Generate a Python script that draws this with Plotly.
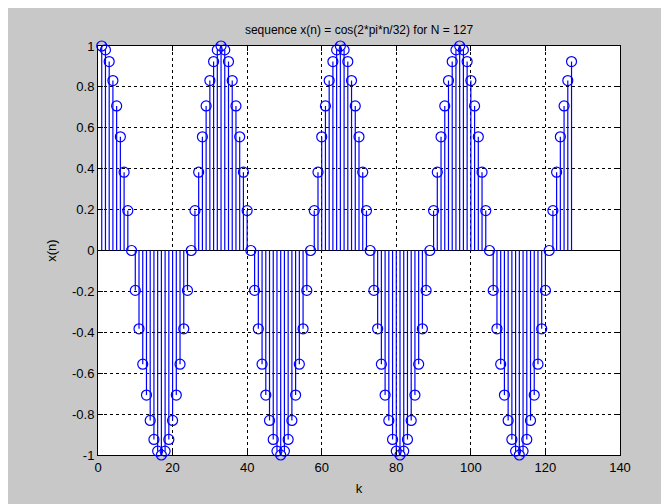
import plotly.graph_objects as go

k_values = list(range(1, 128))
x_values = [
    1.000, 0.981, 0.924, 0.831, 0.707, 0.556, 0.383, 0.195, 0.000, -0.195, -0.383, -0.556, -0.707, -0.831, -0.924, -0.981,
    -1.000, -0.981, -0.924, -0.831, -0.707, -0.556, -0.383, -0.195, 0.000, 0.195, 0.383, 0.556, 0.707, 0.831, 0.924, 0.981,
    1.000, 0.981, 0.924, 0.831, 0.707, 0.556, 0.383, 0.195, 0.000, -0.195, -0.383, -0.556, -0.707, -0.831, -0.924, -0.981,
    -1.000, -0.981, -0.924, -0.831, -0.707, -0.556, -0.383, -0.195, 0.000, 0.195, 0.383, 0.556, 0.707, 0.831, 0.924, 0.981,
    1.000, 0.981, 0.924, 0.831, 0.707, 0.556, 0.383, 0.195, 0.000, -0.195, -0.383, -0.556, -0.707, -0.831, -0.924, -0.981,
    -1.000, -0.981, -0.924, -0.831, -0.707, -0.556, -0.383, -0.195, 0.000, 0.195, 0.383, 0.556, 0.707, 0.831, 0.924, 0.981,
    1.000, 0.981, 0.924, 0.831, 0.707, 0.556, 0.383, 0.195, 0.000, -0.195, -0.383, -0.556, -0.707, -0.831, -0.924, -0.981,
    -1.000, -0.981, -0.924, -0.831, -0.707, -0.556, -0.383, -0.195, 0.000, 0.195, 0.383, 0.556, 0.707, 0.831, 0.924,
]
x_ticks = [0, 20, 40, 60, 80, 100, 120, 140]
y_ticks = [-1, -0.8, -0.6, -0.4, -0.2, 0, 0.2, 0.4, 0.6, 0.8, 1]
y_tick_labels = ["-1", "-0.8", "-0.6", "-0.4", "-0.2", "0", "0.2", "0.4", "0.6", "0.8", "1"]
title_text = "sequence x(n) = cos(2*pi*n/32) for N = 127"

BLUE = "#0000ff"
GRAY = "#c8c8c8"

stem_x, stem_y = [], []
for k, v in zip(k_values, x_values):
    stem_x += [k, k, None]
    stem_y += [0, v, None]

fig = go.Figure()
# baseline
fig.add_trace(go.Scatter(x=[x_ticks[0], x_ticks[-1]], y=[0, 0], mode="lines",
                         line=dict(color="black", width=1), hoverinfo="skip", showlegend=False))
fig.add_trace(go.Scatter(x=stem_x, y=stem_y, mode="lines",
                         line=dict(color=BLUE, width=1.2), hoverinfo="skip", showlegend=False))
fig.add_trace(go.Scatter(x=k_values, y=x_values, mode="markers", cliponaxis=False,
                         marker=dict(symbol="circle-open", size=10, color=BLUE, line=dict(width=1.2, color=BLUE)),
                         showlegend=False))

# figure is placed by the page with a small offset; compensate
OX, OY = 9, 6
W, H = 669 - OX, 504 - OY
L, T = 99 - OX, 44 - OY
R = 669 - 621
B = 504 - 453
pw, ph = W - L - R, H - T - B

def px_x(p):
    return (p - OX - L) / pw

fig.update_layout(
    width=W, height=H,
    margin=dict(l=L, r=R, t=T, b=B, pad=0, autoexpand=False),
    paper_bgcolor=GRAY, plot_bgcolor="white",
    font=dict(family="Liberation Sans, Arial, sans-serif", size=13, color="black"),
    title=dict(text=title_text, x=px_x(360), xanchor="center", xref="paper",
               y=1 - (28 - OY) / H, yanchor="middle", font=dict(size=12)),
    showlegend=False,
)
fig.update_xaxes(range=[x_ticks[0], x_ticks[-1]], tickvals=x_ticks, ticks="inside", ticklen=5,
                 tickcolor="black", showline=True, linecolor="black", linewidth=1, mirror="ticks",
                 showgrid=True, gridcolor="black", gridwidth=1, griddash="3px,3px", zeroline=False,
                 automargin=False,
                 title=dict(text="k", standoff=10, font=dict(size=13)), tickfont=dict(size=13))
fig.update_yaxes(range=[-1, 1], tickvals=y_ticks, ticktext=y_tick_labels, ticks="inside", ticklen=5,
                 tickcolor="black", showline=True, linecolor="black", linewidth=1, mirror="ticks",
                 showgrid=True, gridcolor="black", gridwidth=1, griddash="3px,3px", zeroline=False,
                 automargin=False,
                 title=dict(text="x(n)", standoff=12, font=dict(size=13)), tickfont=dict(size=13))

fig.write_html("out.html")
